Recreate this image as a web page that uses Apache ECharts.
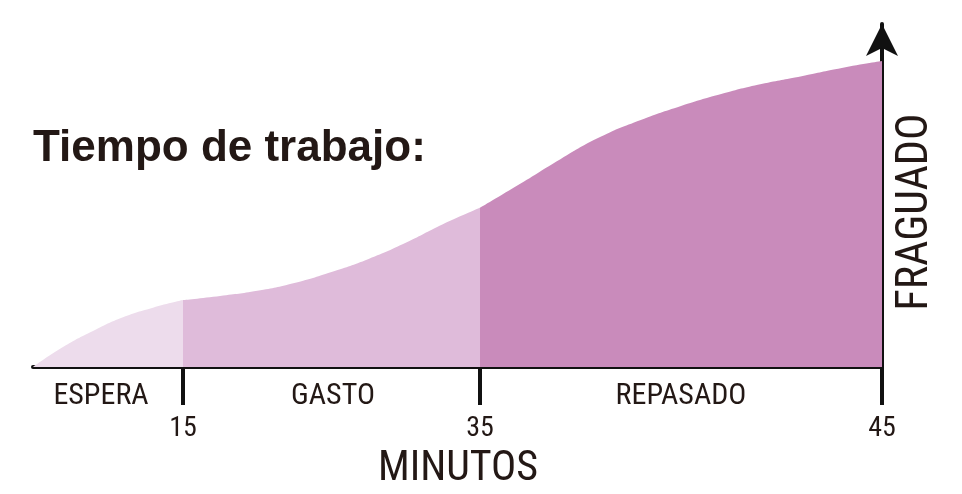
<!DOCTYPE html>
<html>
<head>
<meta charset="utf-8">
<script src="https://cdn.jsdelivr.net/npm/echarts@6/dist/echarts.min.js"></script>
<style>
  html, body { margin: 0; padding: 0; background: #fff; }
  #chart { width: 962px; height: 494px; }
</style>
</head>
<body>
<div id="chart"></div>
<script>
// Phase names and the minute marks that close each phase
const phases = ['ESPERA', 'GASTO', 'REPASADO'];
const phaseEnds = [15, 35, 45];

// Setting progress (% of full set) over time, one list per phase
const esperaMin = [0, 3, 6, 9, 12, 15];
const esperaVal = [0, 5.8, 10.5, 14.5, 17.3, 19.5];

const gastoMin = [15, 17.5, 20, 22.5, 25, 27.5, 30, 32.5, 35];
const gastoVal = [19.5, 20.7, 22.2, 24.5, 27.7, 31.5, 36.2, 41.6, 46.4];

const repasadoMin = [35, 36, 37, 38, 39, 40, 41, 42, 43, 44, 45];
const repasadoVal = [46.4, 53.4, 60.6, 67.1, 72.0, 76.1, 79.6, 82.5, 84.8, 87.2, 89.2];

const titleText = 'Tiempo de trabajo:';
const xName = 'MINUTOS';
const yName = 'FRAGUADO';

const phaseColors = ['#eddcec', '#dfbbda', '#c98bbb'];
const ink = '#231815';
const narrow = '"Liberation Sans Narrow", "Roboto Condensed", "DejaVu Sans Condensed", sans-serif';

// Each phase gets its own horizontal span (the time axis is not uniform)
const spans = [
  { left: 33, width: 150, min: 0, max: 15, labelX: 101 },
  { left: 183, width: 297, min: 15, max: 35, labelX: 333 },
  { left: 480, width: 402, min: 35, max: 45, labelX: 681 }
];
const seriesData = [
  esperaMin.map((m, i) => [m, esperaVal[i]]),
  gastoMin.map((m, i) => [m, gastoVal[i]]),
  repasadoMin.map((m, i) => [m, repasadoVal[i]])
];

const gridTop = 24, gridBottom = 127;

const chart = echarts.init(document.getElementById('chart'), null, { renderer: 'canvas' });

const phaseLabels = spans.map((s, i) => ({
  type: 'text',
  x: s.labelX,
  y: 396,
  style: {
    text: phases[i],
    fontFamily: narrow,
    fontSize: 30,
    fill: ink,
    align: 'center',
    verticalAlign: 'middle'
  }
}));

const option = {
  animation: false,
  backgroundColor: '#ffffff',
  title: {
    text: titleText,
    left: 33,
    top: 127,
    padding: 0,
    textStyle: {
      fontFamily: '"Liberation Sans", Arial, sans-serif',
      fontWeight: 'bold',
      fontSize: 44,
      color: ink
    }
  },
  grid: spans.map(s => ({
    left: s.left,
    width: s.width,
    top: gridTop,
    bottom: gridBottom,
    containLabel: false
  })),
  xAxis: spans.map((s, i) => ({
    type: 'value',
    gridIndex: i,
    min: s.min,
    max: s.max,
    position: 'bottom',
    splitLine: { show: false },
    axisLine: { show: true, onZero: false, lineStyle: { color: '#111', width: 4 } },
    axisTick: {
      show: true,
      customValues: [phaseEnds[i]],
      length: 38,
      lineStyle: { color: '#111', width: 4 }
    },
    axisLabel: {
      show: true,
      customValues: [phaseEnds[i]],
      margin: 48,
      fontFamily: narrow,
      fontSize: 28,
      color: ink
    }
  })),
  yAxis: spans.map((s, i) => ({
    type: 'value',
    gridIndex: i,
    min: 0,
    max: 100,
    position: 'right',
    splitLine: { show: false },
    axisTick: { show: false },
    axisLabel: { show: false },
    axisLine: i === 2
      ? { show: true, symbol: ['none', 'arrow'], symbolSize: [24, 32], lineStyle: { color: '#111', width: 4 } }
      : { show: false }
  })),
  series: seriesData.map((d, i) => ({
    type: 'line',
    xAxisIndex: i,
    yAxisIndex: i,
    data: d,
    smooth: 0.5,
    symbol: 'none',
    lineStyle: { width: 0 },
    areaStyle: { color: phaseColors[i], opacity: 1 },
    z: 1
  })),
  graphic: phaseLabels.concat([
    {
      type: 'text',
      x: 458,
      y: 469,
      style: {
        text: xName,
        fontFamily: narrow,
        fontSize: 42,
        fill: ink,
        align: 'center',
        verticalAlign: 'middle'
      }
    },
    {
      type: 'text',
      x: 916,
      y: 212,
      rotation: Math.PI / 2,
      style: {
        text: yName,
        fontFamily: narrow,
        fontSize: 44,
        fill: ink,
        align: 'center',
        verticalAlign: 'middle'
      }
    }
  ])
};

chart.setOption(option);
</script>
</body>
</html>
